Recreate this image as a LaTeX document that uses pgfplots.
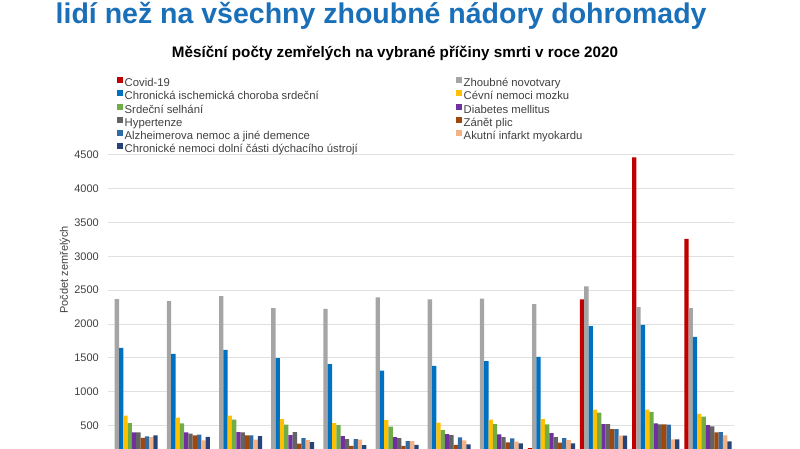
\documentclass[border=0pt]{standalone}
\usepackage{pgfplots}
\usepackage{pgfplotstable}
\usepackage{fontspec}
\setmainfont{Liberation Sans}
\pgfplotsset{compat=1.18}

\definecolor{titleblue}{HTML}{1A70B8}
\definecolor{gridgrey}{HTML}{E0E0E0}
\definecolor{txtgrey}{HTML}{404040}
\definecolor{cCovid}{HTML}{C00000}
\definecolor{cZhoub}{HTML}{A5A5A5}
\definecolor{cIsch}{HTML}{0070C0}
\definecolor{cCevni}{HTML}{FFC000}
\definecolor{cSrdce}{HTML}{70AD47}
\definecolor{cDiab}{HTML}{7030A0}
\definecolor{cHyper}{HTML}{636363}
\definecolor{cZanet}{HTML}{9E480E}
\definecolor{cAlz}{HTML}{2F6BA5}
\definecolor{cAIM}{HTML}{F4B183}
\definecolor{cDych}{HTML}{264478}

% mesicni pocty zemrelych, 2020
\pgfplotstableread{
m covid zhoub isch cevni srdce diab hyper zanet alz aim dych
0 0 2370 1650 648 540 402 402 322 343 333 358
1 0 2340 1560 618 535 402 382 358 367 284 337
2 10 2414 1620 648 589 407 402 358 358 293 348
3 120 2237 1497 599 515 362 407 234 318 288 259
4 40 2226 1408 540 510 348 303 204 303 293 214
5 15 2394 1314 584 485 333 318 204 274 274 219
6 20 2364 1383 545 436 377 362 219 328 284 224
7 30 2374 1452 589 525 372 333 254 313 264 239
8 170 2296 1516 599 520 392 333 249 318 288 239
9 2364 2556 1970 737 692 525 525 451 451 352 352
10 4462 2251 1990 737 703 535 520 520 515 298 298
11 3256 2237 1812 673 634 510 490 402 407 358 269
}\data

\pgfplotsset{
  sq/.style={fill=#1, draw=none,
    legend image code/.code={\fill (0pt,0.9pt) rectangle (6pt,6.9pt);}},
}

\begin{document}
\begin{tikzpicture}
\node[anchor=base west, inner sep=0pt, text=titleblue,
      font=\bfseries\fontsize{28.5}{34}\selectfont] at (55.5pt,425.7pt)
  {lidí než na všechny zhoubné nádory dohromady};
\node[anchor=base, inner sep=0pt,
      font=\bfseries\fontsize{15.2}{18}\selectfont] at (395pt,391.7pt)
  {Měsíční počty zemřelých na vybrané příčiny smrti v roce 2020};

\begin{axis}[
    at={(108pt,-10.6pt)}, anchor=south west,
    scale only axis, width=626pt, height=304.9pt,
    xmin=-0.5, xmax=11.5, ymin=0, ymax=4500,
    ybar=0pt, bar width=4.3pt,
    xtick=\empty,
    ytick={500,1000,...,4500},
    ymajorgrids, grid style={draw=gridgrey, line width=1pt},
    axis line style={draw=none}, major tick length=0pt,
    /pgf/number format/assume math mode=true,
    /pgf/number format/1000 sep={},
    yticklabel style={anchor=east, inner sep=0pt, xshift=-9pt,
      text=txtgrey, font=\fontsize{11}{13}\selectfont},
    ylabel={Počdet zemřelých},
    every axis y label/.style={at={(axis description cs:-0.0687,0.622)},
      rotate=90, anchor=center, text=txtgrey,
      font=\fontsize{11}{13}\selectfont},
    legend columns=2,
    legend cell align=left,
    legend style={at={(axis description cs:0.0139,1.2548)}, anchor=north west,
      draw=none, fill=none, inner sep=0pt, outer sep=0pt,
      font=\fontsize{11.3}{13}\selectfont, text=txtgrey,
      nodes={inner sep=0pt, text height=8pt, text depth=2.5pt},
      row sep=1.1pt, column sep=2pt,
      /tikz/every even column/.append style={column sep=98pt}},
  ]
  \addplot[sq=cCovid] table[x=m, y=covid] {\data};
  \addplot[sq=cZhoub] table[x=m, y=zhoub] {\data};
  \addplot[sq=cIsch]  table[x=m, y=isch]  {\data};
  \addplot[sq=cCevni] table[x=m, y=cevni] {\data};
  \addplot[sq=cSrdce] table[x=m, y=srdce] {\data};
  \addplot[sq=cDiab]  table[x=m, y=diab]  {\data};
  \addplot[sq=cHyper] table[x=m, y=hyper] {\data};
  \addplot[sq=cZanet] table[x=m, y=zanet] {\data};
  \addplot[sq=cAlz]   table[x=m, y=alz]   {\data};
  \addplot[sq=cAIM]   table[x=m, y=aim]   {\data};
  \addplot[sq=cDych]  table[x=m, y=dych]  {\data};
  \legend{Covid-19, Zhoubné novotvary,
    Chronická ischemická choroba srdeční, Cévní nemoci mozku,
    Srdeční selhání, Diabetes mellitus,
    Hypertenze, Zánět plic,
    Alzheimerova nemoc a jiné demence, Akutní infarkt myokardu,
    Chronické nemoci dolní části dýchacího ústrojí}
\end{axis}
\pgfresetboundingbox
\useasboundingbox (0pt,0pt) rectangle (800pt,449pt);
\end{tikzpicture}
\end{document}
